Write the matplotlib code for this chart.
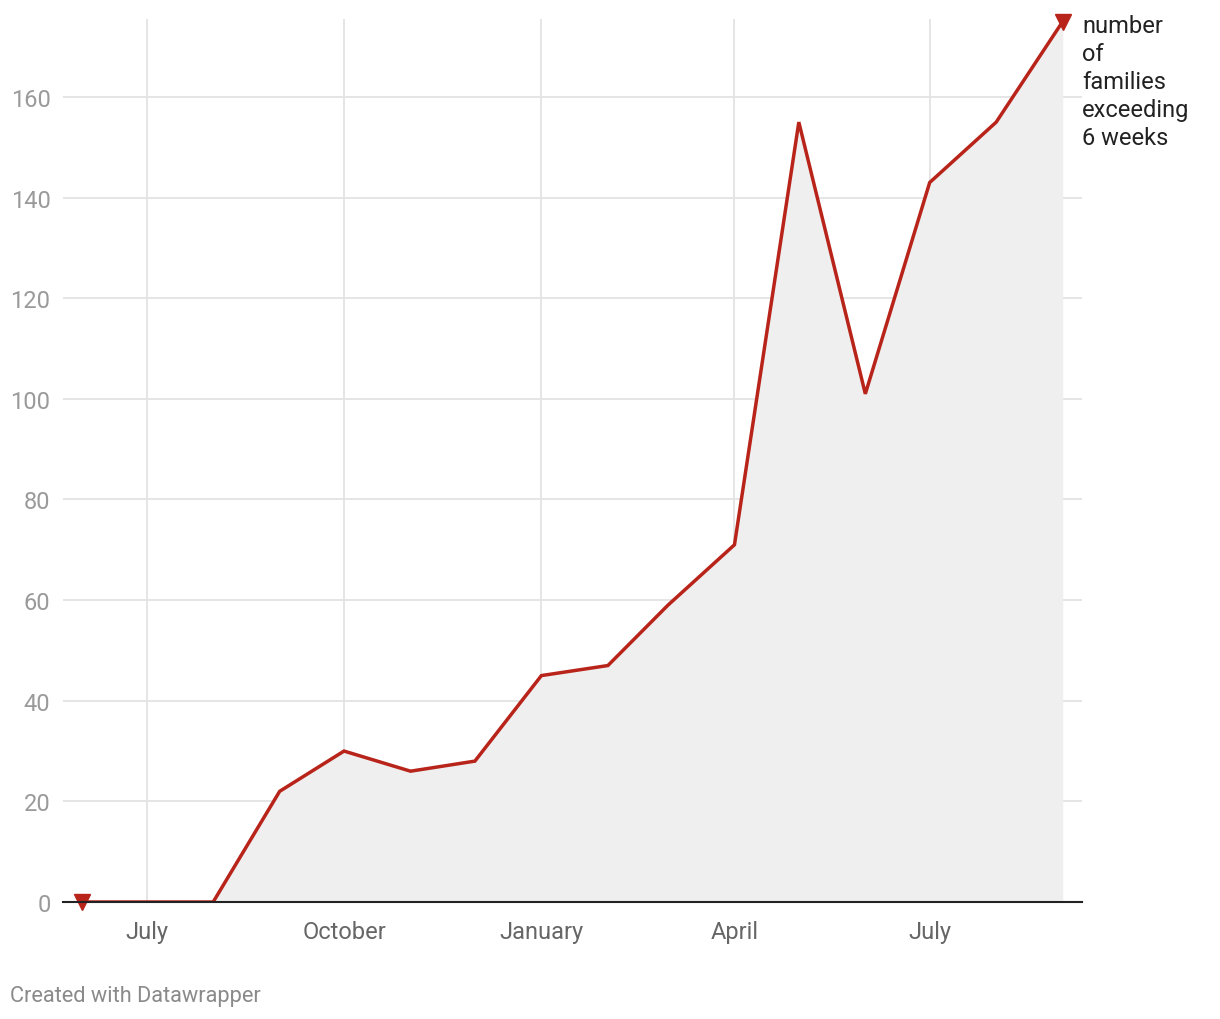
import pandas as pd
import matplotlib.pyplot as plt
import matplotlib.dates as mdates

plt.rcParams['font.family'] = ['Roboto', 'DejaVu Sans']

months = pd.date_range('2016-06-01', '2017-09-01', freq='MS')
families = [0, 0, 0, 22, 30, 26, 28, 45, 47, 59, 71, 155, 101, 143, 155, 175]
y_ticks = [0, 20, 40, 60, 80, 100, 120, 140, 160]
x_ticks = pd.to_datetime(['2016-07-01', '2016-10-01', '2017-01-01', '2017-04-01', '2017-07-01'])
x_labels = ['July', 'October', 'January', 'April', 'July']

red = '#b8241a'

fig = plt.figure(figsize=(12.2, 10.2), dpi=100)
ax = fig.add_axes([63 / 1220, 117 / 1020, (1082 - 63) / 1220, (903 - 20) / 1020])

ax.fill_between(months, families, 0, color='#efefef', linewidth=0, zorder=1)
ax.plot(months, families, color=red, linewidth=2.5, zorder=3, solid_joinstyle='miter')
ax.plot([months[0], months[-1]], [families[0], families[-1]], linestyle='none',
        marker='v', markersize=12, color=red, clip_on=False, zorder=4)

ax.set_xlim(pd.Timestamp('2016-05-23'), pd.Timestamp('2017-09-10'))
ax.set_ylim(0, 175.5)

ax.set_yticks(y_ticks)
ax.set_xticks(x_ticks)
ax.set_xticklabels(x_labels)
ax.grid(True, color='#e3e3e3', linewidth=1.3, zorder=0)
ax.set_axisbelow(True)

for s in ['top', 'right', 'left']:
    ax.spines[s].set_visible(False)
ax.spines['bottom'].set_color('#222222')
ax.spines['bottom'].set_linewidth(1.5)
ax.spines['bottom'].set_zorder(5)

ax.tick_params(axis='both', length=0, labelsize=17)
ax.tick_params(axis='y', colors='#9a9a9a', pad=9)
ax.tick_params(axis='x', colors='#666666', pad=13)

ax.text(1.0, 1.0 + 5 / 883, 'number\nof\nfamilies\nexceeding\n6 weeks', transform=ax.transAxes,
        ha='left', va='top', fontsize=17, color='#222222', linespacing=1.28)

fig.text(10 / 1220, 1 - 997 / 1020, 'Created with Datawrapper', fontsize=15.7,
         color='#8a8a8a', ha='left', va='center')

fig.savefig('out.png', dpi=100)
